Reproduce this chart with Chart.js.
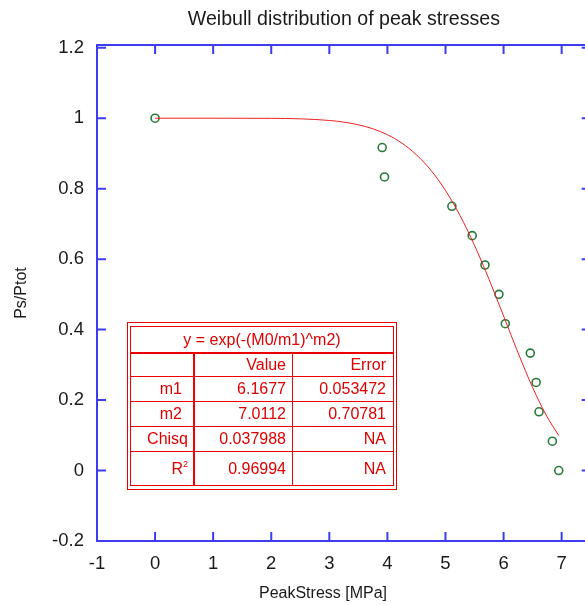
<!DOCTYPE html>
<html><head><meta charset="utf-8">
<script src="https://cdn.jsdelivr.net/npm/chart.js@4.4.1/dist/chart.umd.min.js"></script>
<style>
html,body{margin:0;padding:0;background:#fff;overflow:hidden;width:585px;height:605px}
#wrap{position:relative;width:600px;height:605px}
canvas{position:absolute;left:0;top:0}
#fit{position:absolute;left:0;top:0;font-family:"Liberation Sans",Arial,sans-serif;font-size:16px;color:#dd0000}
#fit div{position:absolute;box-sizing:border-box;white-space:nowrap}
</style></head><body>
<div id="wrap"><canvas id="c" width="600" height="605"></canvas><div id="fit"></div></div>
<script>
// ---- data ----
const xTicks = [-1, 0, 1, 2, 3, 4, 5, 6, 7];
const yTicks = [-0.2, 0, 0.2, 0.4, 0.6, 0.8, 1, 1.2];
const stressX = [0, 3.91, 3.95, 5.11, 5.46, 5.68, 5.92, 6.03, 6.46, 6.56, 6.61, 6.84, 6.95];
const probY   = [1, 0.9167, 0.8333, 0.75, 0.6667, 0.5833, 0.5, 0.4167, 0.3333, 0.25, 0.1667, 0.0833, 0];
const fitX = [0, 1, 2, 2.5, 3, 3.25, 3.5, 3.75, 4, 4.25, 4.5, 4.75, 5, 5.25, 5.5, 5.75, 6, 6.25, 6.5, 6.75, 6.95];
const fitY = [1, 1, 0.9996, 0.9982, 0.9936, 0.9889, 0.9813, 0.9699, 0.9531, 0.9292, 0.8961, 0.8520, 0.7949, 0.7238, 0.6390, 0.5425, 0.4386, 0.3338, 0.2358, 0.1523, 0.0993];
const fitFormula = 'y = exp(-(M0/m1)^m2)';
const tableCols = ['', 'Value', 'Error'];
const paramNames = ['m1', 'm2', 'Chisq', 'R2'];
const paramValues = ['6.1677', '7.0112', '0.037988', '0.96994'];
const paramErrors = ['0.053472', '0.70781', 'NA', 'NA'];

// ---- chart ----
const FONT = "'Liberation Sans', Arial, sans-serif";
const AXIS = '#3c3cf0';
const TXT = '#1a1a1a';

const frame = {
  id: 'frame',
  afterDraw(chart) {
    const {ctx, chartArea: a, scales: {x, y}} = chart;
    ctx.save();
    ctx.strokeStyle = AXIS;
    ctx.lineWidth = 2;
    ctx.strokeRect(a.left, a.top, a.right - a.left, a.bottom - a.top);
    ctx.beginPath();
    const L = 9;
    x.ticks.forEach(t => {
      const p = x.getPixelForValue(t.value);
      ctx.moveTo(p, a.bottom); ctx.lineTo(p, a.bottom - L);
      ctx.moveTo(p, a.top); ctx.lineTo(p, a.top + L);
    });
    y.ticks.forEach(t => {
      const p = y.getPixelForValue(t.value);
      ctx.moveTo(a.left, p); ctx.lineTo(a.left + L, p);
      ctx.moveTo(a.right, p); ctx.lineTo(a.right - L, p);
    });
    ctx.stroke();
    ctx.fillStyle = TXT;
    ctx.font = '16px ' + FONT;
    ctx.textAlign = 'center';
    ctx.textBaseline = 'alphabetic';
    ctx.fillText('PeakStress [MPa]', 323, 598);
    ctx.restore();
  }
};

new Chart(document.getElementById('c'), {
  type: 'scatter',
  data: {
    datasets: [
      {
        data: fitX.map((v, i) => ({x: v, y: fitY[i]})),
        showLine: true, pointRadius: 0, borderColor: '#f02020', borderWidth: 1,
        cubicInterpolationMode: 'monotone', fill: false
      },
      {
        data: stressX.map((v, i) => ({x: v, y: probY[i]})),
        pointStyle: 'circle', pointRadius: 4, borderColor: '#287a38',
        backgroundColor: 'rgba(0,0,0,0)', pointBorderWidth: 1.6, showLine: false
      }
    ]
  },
  options: {
    responsive: false, animation: false, devicePixelRatio: 1,
    layout: {padding: {left: 0, right: 9.3, top: 0, bottom: 0}},
    plugins: {
      legend: {display: false}, tooltip: {enabled: false},
      title: {display: true, text: 'Weibull distribution of peak stresses', fullSize: false,
        color: TXT, font: {family: FONT, size: 19.6, weight: 'normal'}, padding: {top: 7.5, bottom: 14}}
    },
    scales: {
      x: {
        type: 'linear', min: -1, max: 7.5,
        afterBuildTicks: s => { s.ticks = xTicks.map(v => ({value: v})); },
        afterFit: s => { s.height = 64; },
        grid: {display: false, drawTicks: false}, border: {display: false},
        ticks: {color: TXT, font: {family: FONT, size: 18.5}, padding: 12, maxRotation: 0, autoSkip: false,
          callback: v => String(v)}
      },
      y: {
        type: 'linear', min: -0.2, max: 1.2077,
        afterBuildTicks: s => { s.ticks = yTicks.map(v => ({value: v})); },
        afterFit: s => { s.width = 97; },
        grid: {display: false, drawTicks: false}, border: {display: false},
        ticks: {color: TXT, font: {family: FONT, size: 18.5}, padding: 13, autoSkip: false,
          callback: v => String(Math.round(v * 10) / 10)},
        title: {display: true, text: 'Ps/Ptot', color: TXT, font: {family: FONT, size: 16}, padding: {top: 12, bottom: 0}}
      }
    }
  },
  plugins: [frame]
});

// ---- fit table (HTML overlay) ----
const RED = '#ee0000';
const fit = document.getElementById('fit');
function box(l, t, w, h, css) {
  const d = document.createElement('div');
  d.style.left = l + 'px'; d.style.top = t + 'px';
  d.style.width = w + 'px'; d.style.height = h + 'px';
  if (css) d.style.cssText += css;
  fit.appendChild(d);
  return d;
}
box(127, 322, 270, 168, 'border:1px solid ' + RED);
box(130, 326, 264, 160, 'border:1px solid ' + RED);
box(130, 352, 264, 2, 'background:' + RED);
box(193, 352, 2, 134, 'background:' + RED);
box(292, 352, 1, 134, 'background:' + RED);
[376, 401, 426, 451].forEach(y => box(130, y, 264, 1, 'background:' + RED));

const rowTop = [354, 377, 402, 427, 452];
const rowH = [22, 24, 24, 24, 33];
const colL = [131, 195, 293];
const colW = [62, 97, 100];
const col1Pad = [6, 11, 11, 5, 5];
function cell(r, c, html, pad) {
  const d = box(colL[c], rowTop[r], colW[c], rowH[r],
    'text-align:right;padding-right:' + pad + 'px;line-height:' + rowH[r] + 'px');
  d.innerHTML = html;
}
const hdr = box(131, 327, 262, 25, 'text-align:center;line-height:25px');
hdr.textContent = fitFormula;
tableCols.forEach((t, c) => cell(0, c, t, c === 0 ? 6 : (c === 1 ? 6 : 7)));
paramNames.forEach((n, i) => {
  const label = n === 'R2' ? 'R<span style="font-size:9px;position:relative;top:-7px">2</span>' : n;
  cell(i + 1, 0, label, col1Pad[i + 1]);
  cell(i + 1, 1, paramValues[i], 6);
  cell(i + 1, 2, paramErrors[i], 7);
});
</script>
</body></html>
